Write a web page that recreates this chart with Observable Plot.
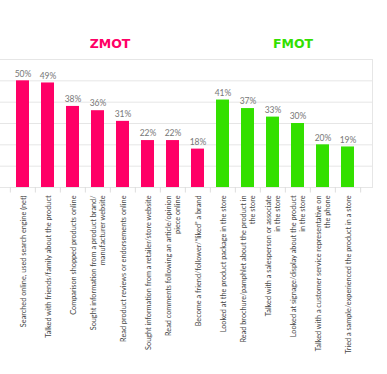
<!DOCTYPE html>
<html>
<head>
<meta charset="utf-8">
<script src="https://cdn.jsdelivr.net/npm/d3@7"></script>
<script src="https://cdn.jsdelivr.net/npm/@observablehq/plot@0.6"></script>
<style>
  html, body { margin: 0; padding: 0; background: #fff; }
  #wrap { position: relative; width: 387px; height: 374px; overflow: hidden; }
  .title { position: absolute; top: 36px; font-family: "DejaVu Sans", sans-serif; font-weight: bold; font-size: 12.5px; transform: translateX(-50%); white-space: nowrap; }
  #zmot { left: 110px; color: #ff0066; }
  #fmot { left: 293px; color: #33e000; }
</style>
</head>
<body>
<div id="wrap">
  <div class="title" id="zmot">ZMOT</div>
  <div class="title" id="fmot">FMOT</div>
</div>
<script>
const categories = [
  "Searched online, used search engine (net)",
  "Talked with friends/family about the product",
  "Comparison shopped products online",
  "Sought information from a product brand/\nmanufacturer website",
  "Read product reviews or endorsements online",
  "Sought information from a retailer/store website",
  "Read comments following an article/opinion\npiece online",
  "Become a friend/follower/\u201cliked\u201d a brand",
  "Looked at the product package in the store",
  "Read brochure/pamphlet about the product in\nthe store",
  "Talked with a salesperson or associate\nin the store",
  "Looked at signage/display about the product\nin the store",
  "Talked with a customer service representative on\nthe phone",
  "Tried a sample/experienced the product in a store"
];
const values = [50, 49, 38, 36, 31, 22, 22, 18, 41, 37, 33, 30, 20, 19];
const groups = ["ZMOT","ZMOT","ZMOT","ZMOT","ZMOT","ZMOT","ZMOT","ZMOT","FMOT","FMOT","FMOT","FMOT","FMOT","FMOT"];
const gridTicks = [10, 20, 30, 40, 50];

const data = categories.map((c, i) => ({cat: c, value: values[i], group: groups[i]}));

const xRange = [7.8, 362];
const step = (xRange[1] - xRange[0]) / categories.length;

const chart = Plot.plot({
  width: 387,
  height: 374,
  marginTop: 59,
  marginBottom: 187,
  marginLeft: -1,
  marginRight: 15,
  style: {fontFamily: "Lato, sans-serif", background: "transparent"},
  x: {
    type: "band",
    domain: categories,
    range: xRange,
    paddingInner: 0.48,
    paddingOuter: 0.24,
    tickSize: 0,
    tickPadding: 8,
    tickRotate: -90,
    label: null
  },
  y: {domain: [0, 60], axis: null},
  color: {domain: ["ZMOT", "FMOT"], range: ["#ff0066", "#33e000"]},
  marks: [
    Plot.frame({stroke: "#e6e6e6"}),
    Plot.ruleY(gridTicks, {stroke: "#e6e6e6"}),
    Plot.ruleX(categories, {x: d => d, y1: 0, y2: -2.6, dx: -step / 2, stroke: "#dddddd"}),
    Plot.ruleX([categories[categories.length - 1]], {x: d => d, y1: 0, y2: -2.6, dx: step / 2, stroke: "#dddddd"}),
    Plot.barY(data, {x: "cat", y: "value", fill: "group"}),
    Plot.text(data, {x: "cat", y: "value", text: d => d.value + "%", dy: -7, fill: "#777", fontSize: 8.5}),
    Plot.axisX({tickSize: 0, tickPadding: 8, tickRotate: -90, fontSize: 7.3, fill: "#444", lineHeight: 1.25, label: null})
  ]
});
document.getElementById("wrap").prepend(chart);
chart.style.position = "absolute";
chart.style.left = "0";
chart.style.top = "0";
</script>
</body>
</html>
